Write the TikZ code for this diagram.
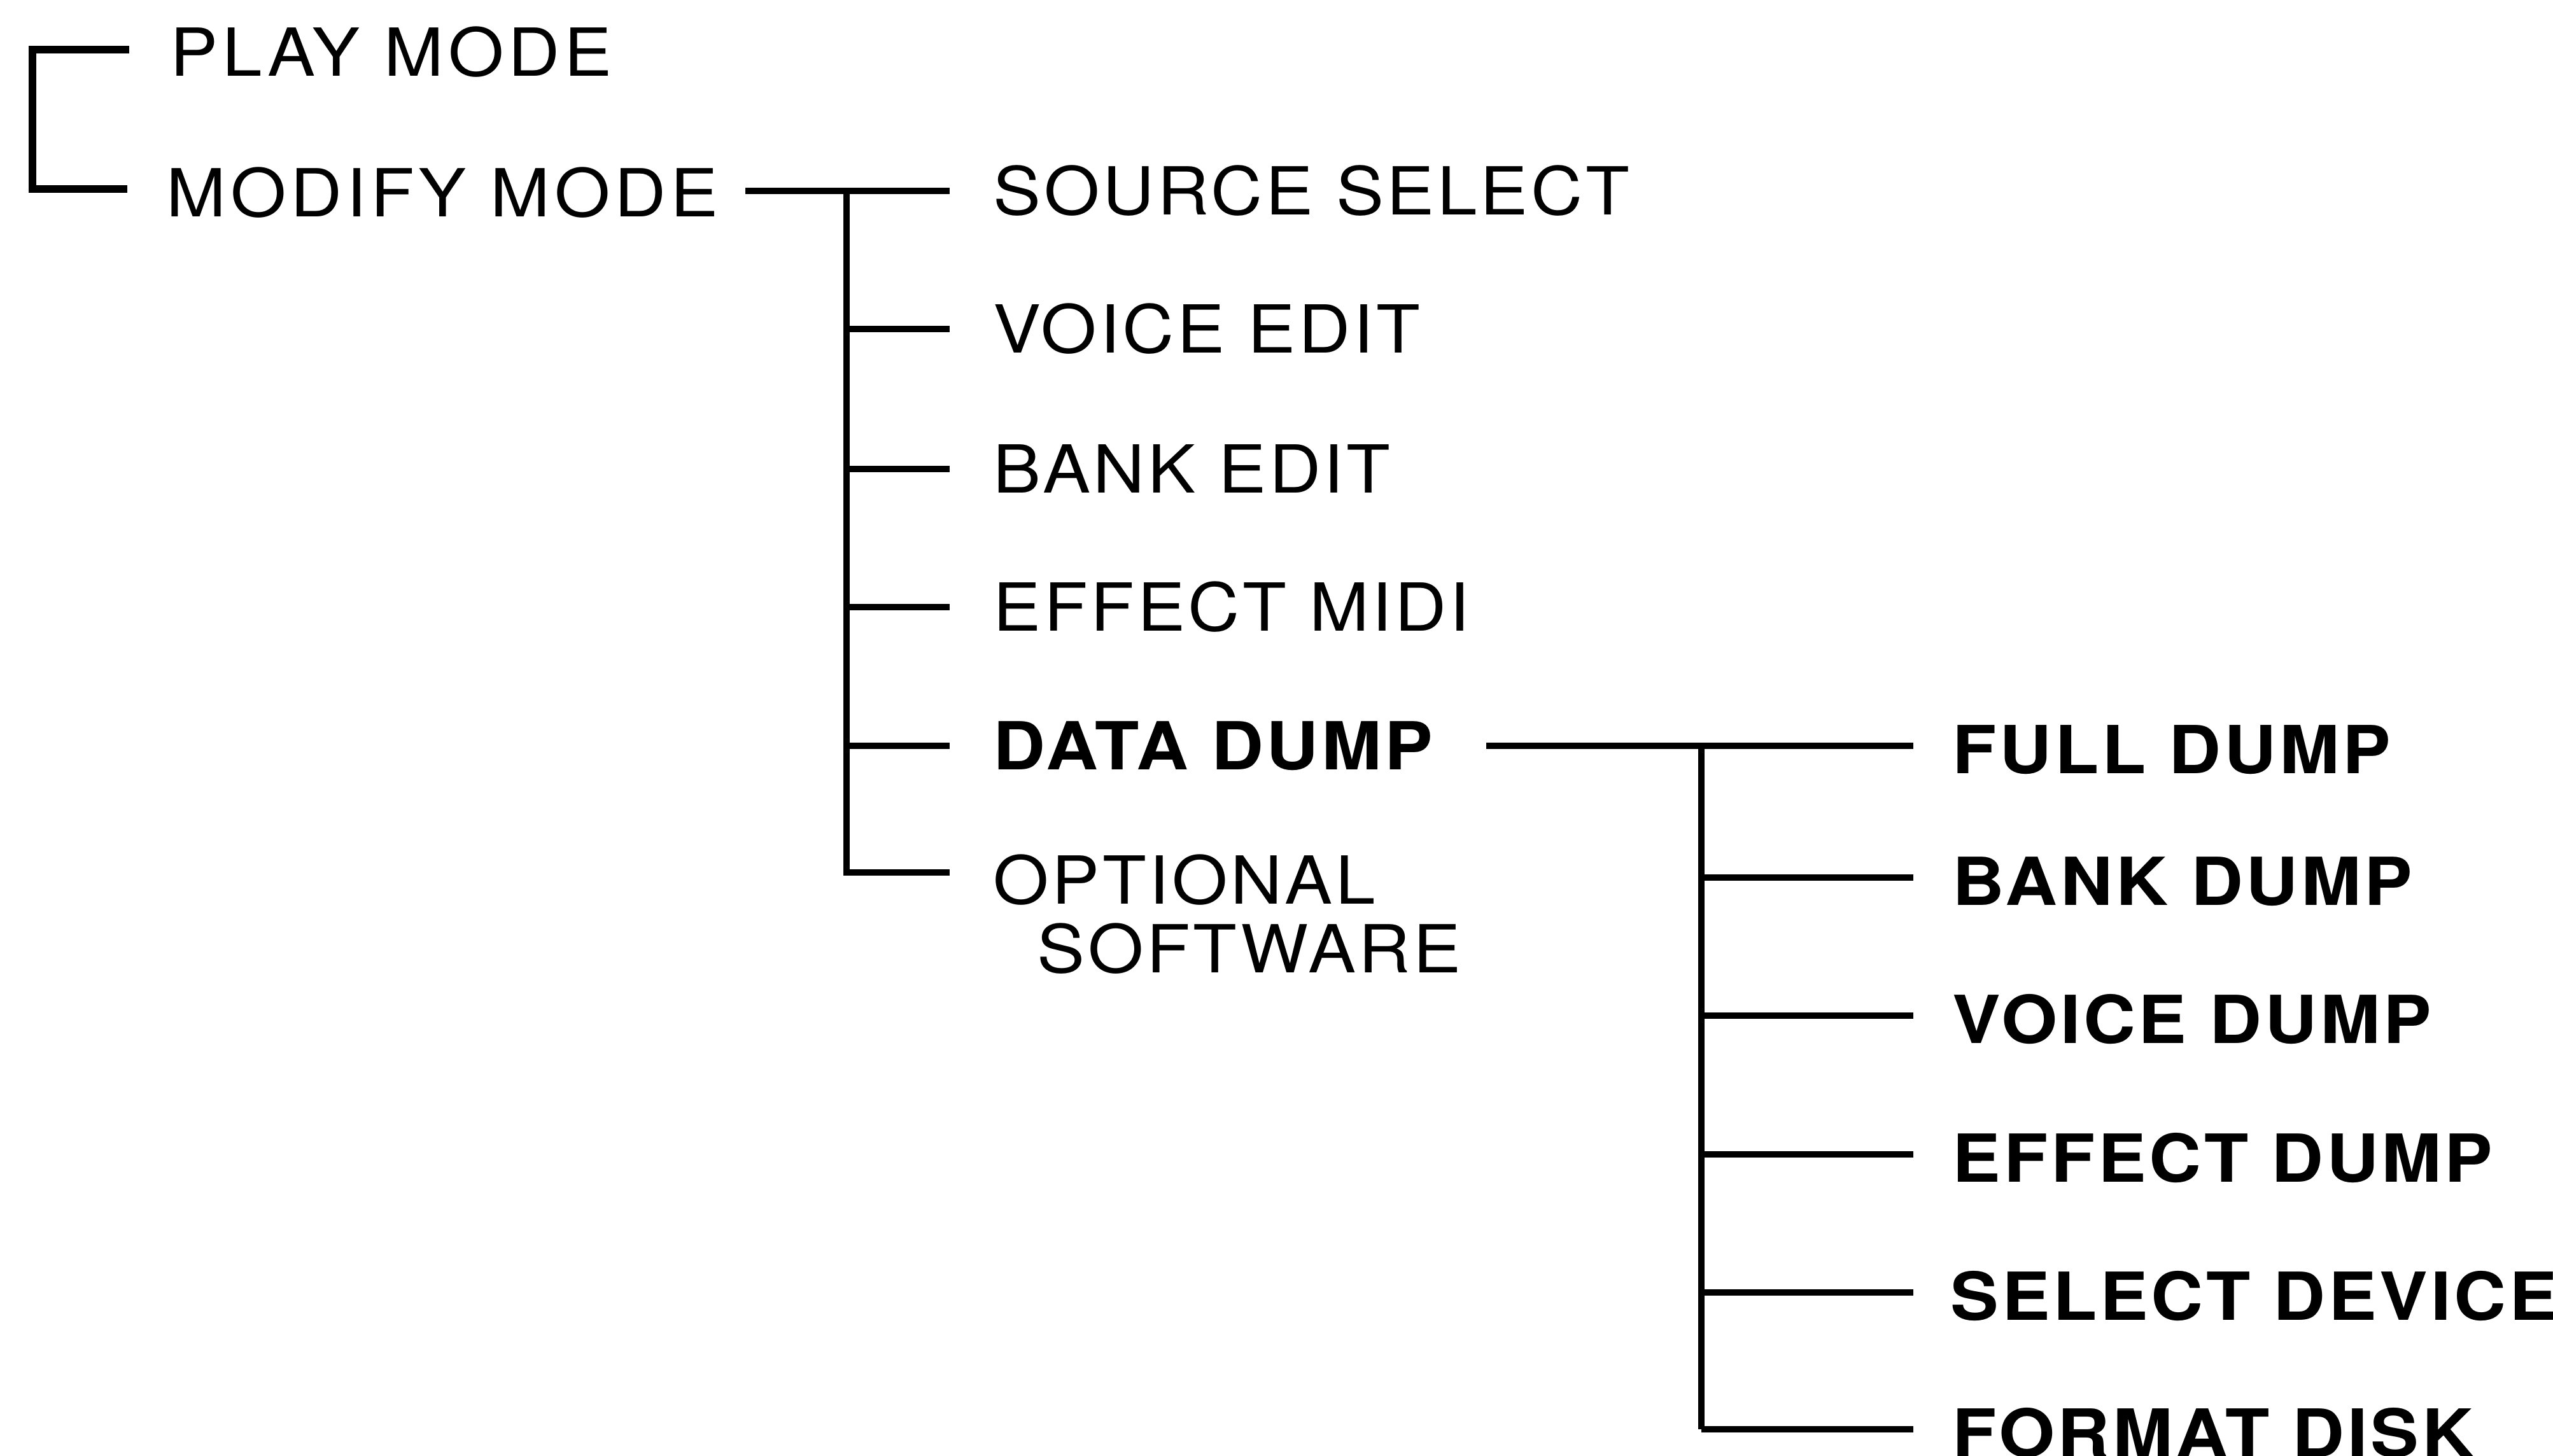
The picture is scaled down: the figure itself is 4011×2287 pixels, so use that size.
\documentclass[tikz,border=0pt]{standalone}
\usepackage{fontspec}
\setmainfont{TeX Gyre Heros}[FakeStretch=1.08,LetterSpace=4.5,BoldFeatures={FakeStretch=1.09}]
\begin{document}
\begin{tikzpicture}[x=0.01cm,y=-0.01cm,
  lbl/.style={anchor=west,inner sep=0pt,font=\fontsize{29.6}{30.7}\selectfont},
  blbl/.style={lbl,font=\fontsize{29.6}{30.7}\selectfont\bfseries},
  wlbl/.style={lbl,font=\fontsize{29.6}{30.7}\selectfont\addfontfeature{LetterSpace=6.5}},
  tree/.style={line width=2.9pt},
  brk/.style={line width=3.6pt}]
\useasboundingbox (0,0) rectangle (4011,2287);
% mode bracket
\node[wlbl] (play) at (267,82) {PLAY MODE};
\node[wlbl] (modify) at (261,303) {MODIFY MODE};
\coordinate (pe) at (203,78);
\coordinate (bt) at (51,78);
\coordinate (bb) at (51,297);
\coordinate (me) at (200,297);
\draw[brk] (pe) -- (bt) -- (bb) -- (me);
% level 1
\node[lbl] (src) at (1560,300) {SOURCE SELECT};
\node[lbl] (voice) at (1560,517) {VOICE EDIT};
\node[lbl] (bank) at (1560,737) {BANK EDIT};
\node[lbl] (effect) at (1560,954) {EFFECT MIDI};
\node[blbl] (data) at (1560,1172) {DATA DUMP};
\node[lbl,anchor=north west,align=left] (opt) at (1560,1342) {OPTIONAL\\\hspace*{0.69cm}SOFTWARE};
\coordinate (m1) at (1171,300);
\coordinate (v1t) at (1330,300);
\coordinate (v1b) at (1330,1371);
\coordinate (optin) at (1492,1371);
\draw[tree] (m1) -- ([xshift=-0.68cm]src.west);
\draw[tree] (v1t) -- (v1b) -- (optin);
\foreach \n in {voice,bank,effect,data}
  \draw[tree] (v1t |- \n.west) -- ([xshift=-0.68cm]\n.west);
% level 2
\node[blbl] (full) at (3067,1178) {FULL DUMP};
\node[blbl] (bdump) at (3067,1385) {BANK DUMP};
\node[blbl] (vdump) at (3067,1602) {VOICE DUMP};
\node[blbl] (edump) at (3067,1820) {EFFECT DUMP};
\node[blbl] (sdev) at (3064,2037) {SELECT DEVICE};
\node[blbl] (fdisk) at (3067,2252) {FORMAT DISK};
\coordinate (d1) at (2335,1172);
\coordinate (v2t) at (2673,1172);
\coordinate (v2b) at (2673,2246);
\coordinate (fin) at (3006,1172);
\draw[tree] (d1) -- (fin);
\draw[tree] (v2t) -- (v2b);
\foreach \n/\yy in {bdump/1379,vdump/1596,edump/1814,sdev/2031,fdisk/2246}
  \draw[tree] (2673,\yy) -- (3006,\yy);
\end{tikzpicture}
\end{document}
